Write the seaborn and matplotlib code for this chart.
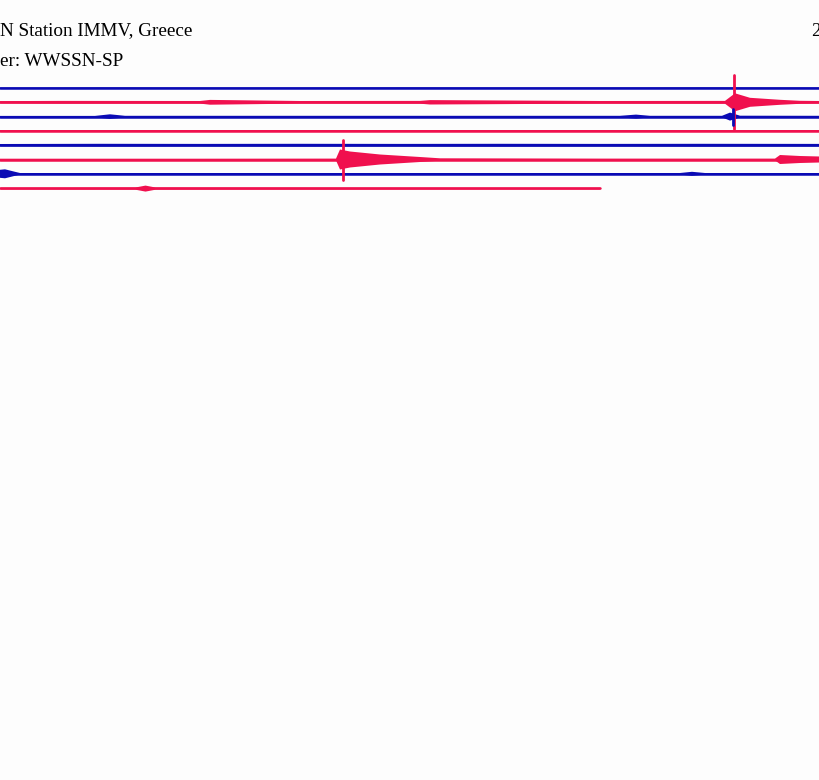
import numpy as np
import matplotlib
matplotlib.use("Agg")
import matplotlib.pyplot as plt
import seaborn as sns

sns.set_style("white")

# Trace colors alternate blue / red
colors = ["#0a0ab4", "#f0104e"] * 4
# Trace end (pixel-like minute scale, 0..820)
trace_end = [820, 820, 820, 820, 820, 820, 820, 600]

# Amplitude envelope knots per trace: (x position, half-amplitude in px)
env_x = [
    [0, 100, 200, 300, 400, 500, 600, 700, 820],
    [0, 60, 200, 210, 300, 420, 430, 600, 725, 735, 750, 780, 800, 820],
    [0, 95, 110, 125, 300, 620, 636, 650, 722, 730, 740, 820],
    [0, 200, 400, 600, 820],
    [0, 100, 200, 300, 400, 500, 600, 700, 820],
    [0, 200, 336, 340, 350, 380, 420, 440, 600, 775, 780, 800, 820],
    [0, 5, 15, 20, 400, 680, 692, 705, 820],
    [0, 135, 145, 155, 400, 600],
]
env_a = [
    [0.6, 0.7, 0.6, 0.6, 0.7, 0.6, 0.6, 0.7, 0.6],
    [1.2, 1.4, 1.3, 2.4, 1.3, 1.4, 2.2, 1.3, 1.4, 9.0, 4.5, 2.5, 1.5, 1.3],
    [0.7, 0.7, 2.3, 0.8, 0.8, 0.8, 2.0, 0.8, 0.8, 4.0, 0.9, 0.8],
    [0.7, 0.7, 0.7, 0.7, 0.7],
    [1.2, 1.4, 1.3, 1.4, 1.3, 1.4, 1.3, 1.4, 1.3],
    [0.8, 0.8, 0.9, 10.0, 8.0, 5.0, 2.5, 1.2, 0.9, 0.9, 4.5, 3.5, 3.0],
    [4.0, 4.5, 2.0, 0.8, 0.8, 0.8, 2.0, 0.8, 0.8],
    [1.0, 1.1, 3.0, 1.1, 1.0, 1.0],
]
# Impulsive spikes: (trace, x, half-length in px)
spikes = [(1, 734, 27), (5, 343, 20), (2, 733, 8)]

title_left = "N Station IMMV, Greece"
filter_text = "er: WWSSN-SP"
date_text = "2"

fig = plt.figure(figsize=(8.2, 7.8), dpi=100)
ax = fig.add_axes([0, 0, 1, 1])
spacing = 14.3
ax.set_xlim(0, 820)
ax.set_ylim((780 - 88) / spacing, -88 / spacing)
ax.axis("off")

for i in range(8):
    x = np.array(env_x[i], float)
    a = np.array(env_a[i]) / spacing
    ax.fill_between(x, i - a, i + a, color=colors[i], lw=0)
    ax.plot([0, trace_end[i]], [i, i], color=colors[i], lw=1.8)

for t, sx, h in spikes:
    ax.plot([sx, sx], [t - h / spacing, t + h / spacing], color=colors[t], lw=2)

fig.text(0.5 / 820, 1 - 31 / 780, title_left, ha="left", va="center",
         family="Liberation Serif", fontsize=13.8, color="black")
fig.text(0.5 / 820, 1 - 61 / 780, filter_text, ha="left", va="center",
         family="Liberation Serif", fontsize=13.8, color="black")
fig.text(811 / 820, 1 - 31 / 780, date_text, ha="left", va="center",
         family="Liberation Serif", fontsize=13.8, color="black")

fig.savefig("out.png", dpi=100, facecolor="#fdfdfd")
